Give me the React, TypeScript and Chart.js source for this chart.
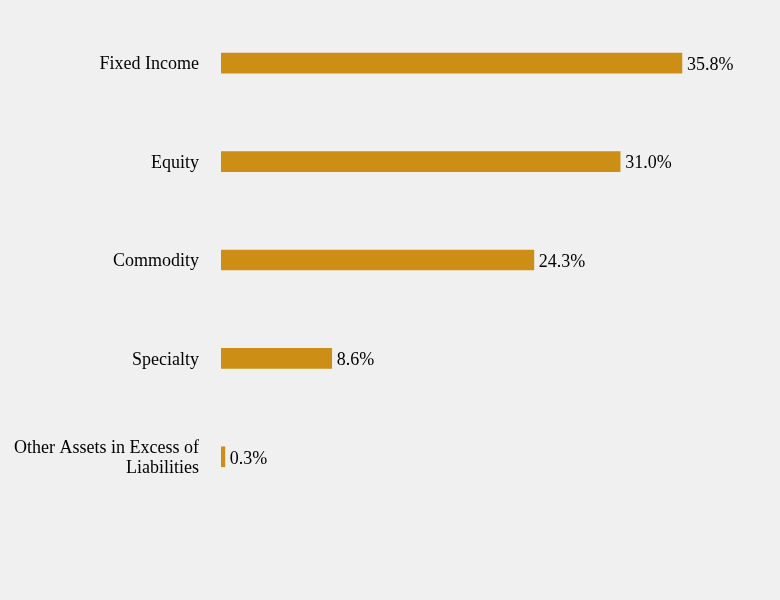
import React, { useEffect, useRef } from "react";
import { Chart, registerables } from "chart.js";

Chart.register(...registerables);

const categories: (string | string[])[] = [
  "Fixed Income",
  "Equity",
  "Commodity",
  "Specialty",
  ["Other Assets in Excess of", "Liabilities"],
];
const values = [35.8, 31.0, 24.3, 8.6, 0.3];
const valueLabels = ["35.8%", "31.0%", "24.3%", "8.6%", "0.3%"];

const FONT = "'Liberation Serif', 'Times New Roman', serif";

const valueLabelPlugin = {
  id: "valueLabels",
  afterDatasetsDraw(chart: any) {
    const ctx = chart.ctx;
    const meta = chart.getDatasetMeta(0);
    ctx.save();
    ctx.font = `18px ${FONT}`;
    ctx.fillStyle = "#000";
    ctx.textAlign = "left";
    ctx.textBaseline = "middle";
    meta.data.forEach((bar: any, i: number) => {
      ctx.fillText(valueLabels[i], bar.x + 5, bar.y + 2);
    });
    ctx.restore();
  },
};

export default function App() {
  const ref = useRef<HTMLCanvasElement>(null);
  useEffect(() => {
    document.body.style.margin = "0";
    document.body.style.background = "#f0f0f0";
    const chart = new Chart(ref.current!, {
      type: "bar",
      data: {
        labels: categories,
        datasets: [
          {
            data: values,
            backgroundColor: "#CD8E15",
            borderWidth: 0,
            barThickness: 20,
          },
        ],
      },
      options: {
        indexAxis: "y",
        animation: false,
        responsive: false,
        maintainAspectRatio: false,
        layout: { padding: { left: 12, right: 44, top: 14, bottom: 94 } },
        plugins: {
          legend: { display: false },
          tooltip: { enabled: false },
        },
        scales: {
          x: {
            display: false,
            min: 0,
            max: 40,
          },
          y: {
            grid: { display: false, drawTicks: false },
            border: { display: false },
            afterFit: (scale: any) => {
              scale.paddingTop = 0;
              scale.paddingBottom = 0;
              scale.width = 209;
            },
            ticks: {
              padding: 22,
              labelOffset: 1.5,
              color: "#000",
              font: { family: FONT, size: 18, lineHeight: 1.1 },
            },
          },
        },
      },
      plugins: [valueLabelPlugin],
    });
    return () => chart.destroy();
  }, []);
  return (
    <div style={{ width: 780, height: 600, background: "#f0f0f0" }}>
      <canvas ref={ref} width={780} height={600} style={{ display: "block" }} />
    </div>
  );
}
